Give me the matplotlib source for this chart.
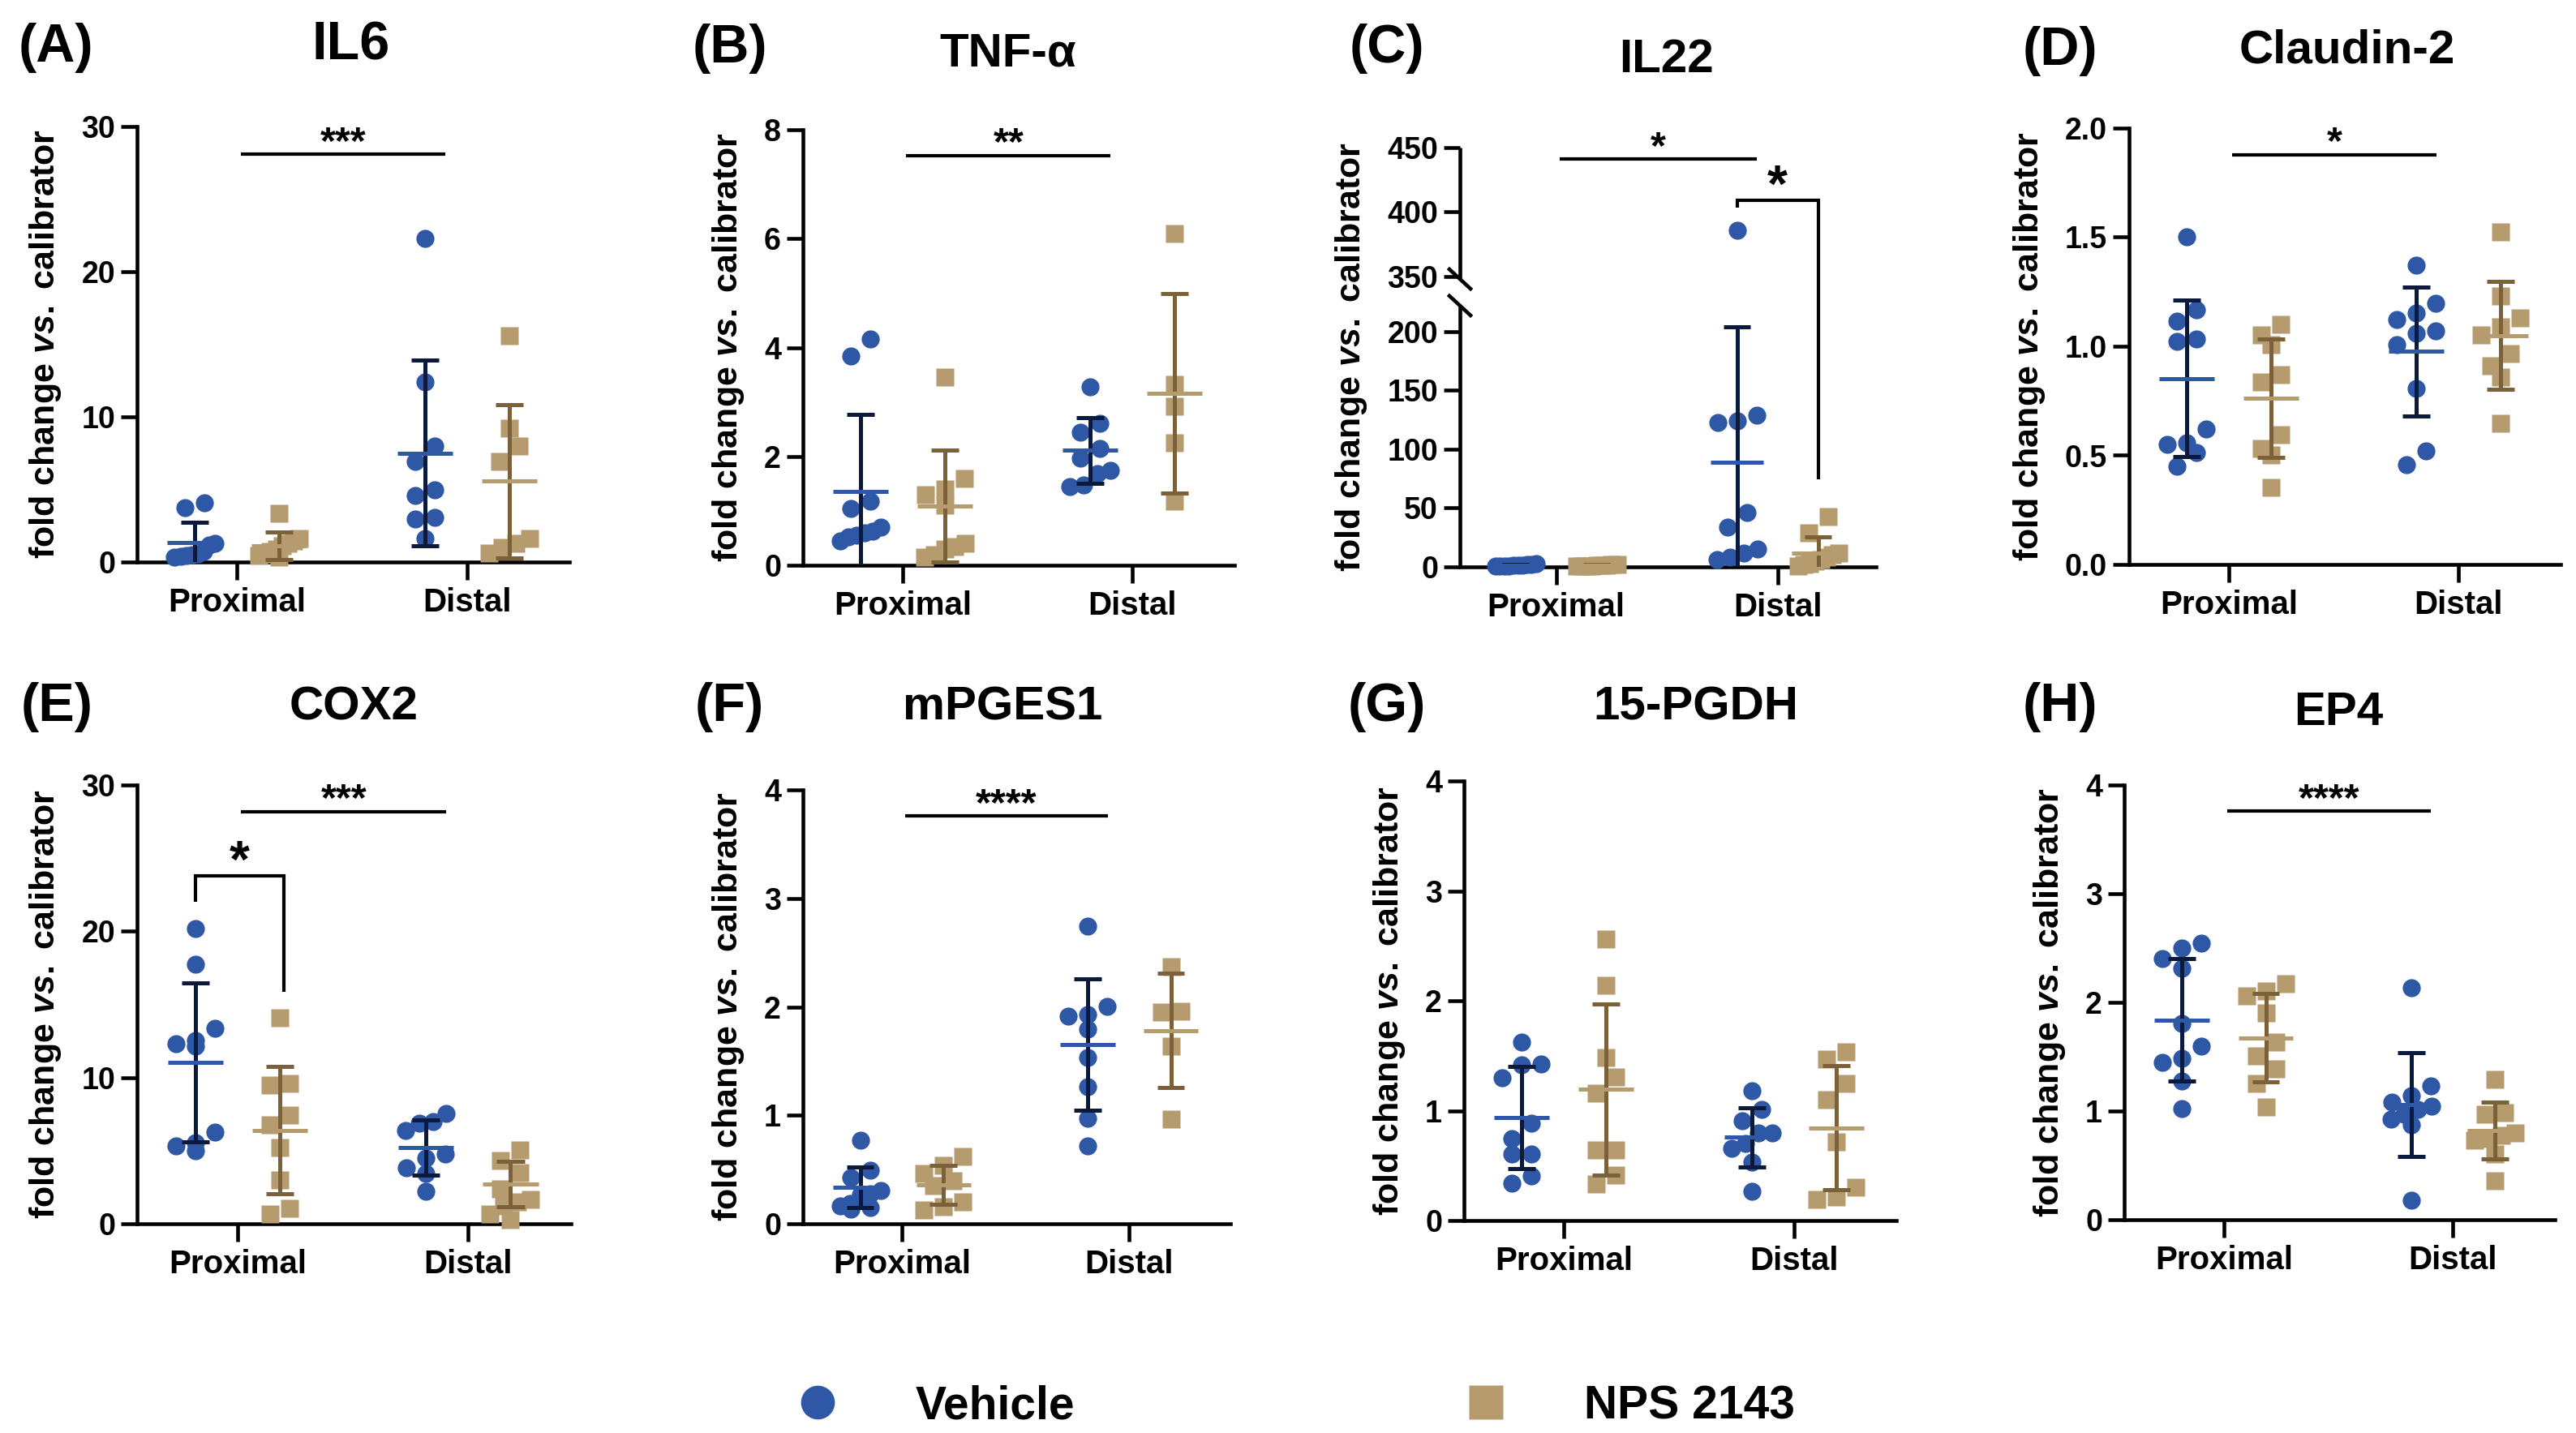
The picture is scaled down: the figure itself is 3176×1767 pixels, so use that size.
import numpy as np
import matplotlib
matplotlib.use("Agg")
import matplotlib.pyplot as plt
from matplotlib.lines import Line2D
from matplotlib.ticker import FuncFormatter, NullLocator

plt.rcParams['font.family'] = ['Liberation Sans', 'DejaVu Sans']
plt.rcParams['mathtext.fontset'] = 'custom'
plt.rcParams['mathtext.it'] = 'Liberation Sans:italic:bold'
plt.rcParams['mathtext.rm'] = 'Liberation Sans:bold'

# ---------------- data ----------------
regions = ['Proximal', 'Distal']
groups = ['Vehicle', 'NPS 2143']
genes = ['IL6', 'TNF-α', 'IL22', 'Claudin-2', 'COX2', 'mPGES1', '15-PGDH', 'EP4']
letters = ['(A)', '(B)', '(C)', '(D)', '(E)', '(F)', '(G)', '(H)']

# order of mean/sd lists: vehicle-proximal, nps-proximal, vehicle-distal, nps-distal
il6_veh_prox = [4.07, 3.72, 1.26, 1.15, 0.7, 0.55, 0.5, 0.45, 0.4, 0.35]
il6_nps_prox = [3.35, 1.6, 1.45, 1.3, 1.1, 0.9, 0.7, 0.55, 0.45, 0.35]
il6_veh_dist = [22.3, 12.4, 8.0, 6.9, 5.0, 4.6, 3.07, 2.98, 1.63]
il6_nps_dist = [15.6, 9.2, 8.0, 6.9, 1.6, 1.3, 1.0, 0.6]
il6_mean = [1.35, 1.11, 7.5, 5.56]
il6_sd = [1.37, 0.95, 6.4, 5.3]

tnf_veh_prox = [4.16, 3.85, 1.18, 1.05, 0.70, 0.62, 0.60, 0.55, 0.52, 0.44]
tnf_nps_prox = [3.45, 1.6, 1.4, 1.3, 1.1, 0.4, 0.35, 0.3, 0.2, 0.15]
tnf_veh_dist = [3.28, 2.61, 2.44, 2.15, 1.97, 1.74, 1.69, 1.47, 1.45]
tnf_nps_dist = [6.09, 3.32, 2.92, 2.25, 1.18]
tnf_mean = [1.36, 1.09, 2.11, 3.16]
tnf_sd = [1.41, 1.03, 0.6, 1.83]

il22_veh_prox = [2.5, 2.0, 1.8, 1.5, 1.3, 1.2, 1.0, 0.9, 0.8, 0.6]
il22_nps_prox = [2.2, 1.8, 1.5, 1.3, 1.1, 1.0, 0.8, 0.6, 0.5]
il22_veh_dist = [386, 129, 124, 123, 46, 34, 15, 12, 8, 6]
il22_nps_dist = [43, 29, 12, 10, 8, 6, 5, 3, 2, 1]
il22_mean = [1.36, 1.2, 88.7, 11.9]
il22_sd = [0.6, 0.55, 115.5, 13.8]

cld_veh_prox = [1.503, 1.168, 1.116, 1.034, 1.021, 0.621, 0.558, 0.552, 0.514, 0.45]
cld_nps_prox = [1.10, 1.053, 1.006, 0.869, 0.838, 0.596, 0.533, 0.50, 0.354]
cld_veh_dist = [1.371, 1.196, 1.154, 1.124, 1.069, 1.059, 1.006, 0.806, 0.52, 0.457]
cld_nps_dist = [1.524, 1.23, 1.13, 1.09, 1.053, 0.968, 0.91, 0.857, 0.648]
cld_mean = [0.853, 0.762, 0.977, 1.05]
cld_sd = [0.36, 0.272, 0.295, 0.248]

cox_veh_prox = [20.2, 17.77, 13.39, 12.54, 12.3, 12.17, 6.28, 5.54, 5.35, 5.0]
cox_nps_prox = [14.1, 9.61, 9.47, 7.42, 6.77, 5.2, 2.99, 1.08, 0.65]
cox_veh_dist = [7.53, 6.97, 6.9, 6.4, 4.78, 4.49, 3.84, 3.44, 2.22]
cox_nps_dist = [5.06, 4.35, 3.5, 2.36, 1.65, 1.5, 1.22, 0.65, 0.3]
cox_mean = [11.03, 6.4, 5.2, 2.7]
cox_sd = [5.45, 4.36, 1.89, 1.56]

mpg_veh_prox = [0.771, 0.49, 0.426, 0.307, 0.28, 0.272, 0.184, 0.165, 0.146, 0.134]
mpg_nps_prox = [0.617, 0.54, 0.464, 0.40, 0.35, 0.2, 0.157, 0.127]
mpg_veh_dist = [2.742, 2.006, 1.929, 1.914, 1.795, 1.534, 1.266, 0.97, 0.721]
mpg_nps_dist = [2.37, 1.96, 1.95, 1.64, 0.963]
mpg_mean = [0.337, 0.357, 1.653, 1.783]
mpg_sd = [0.19, 0.18, 0.604, 0.53]

pgd_veh_prox = [1.627, 1.427, 1.419, 1.298, 0.889, 0.745, 0.605, 0.605, 0.405, 0.34]
pgd_nps_prox = [2.562, 2.138, 1.487, 1.306, 1.162, 0.643, 0.643, 0.416, 0.33]
pgd_veh_dist = [1.184, 1.01, 0.908, 0.795, 0.795, 0.70, 0.655, 0.53, 0.265]
pgd_nps_dist = [1.533, 1.465, 1.249, 1.097, 0.719, 0.30, 0.216, 0.189]
pgd_mean = [0.935, 1.192, 0.757, 0.844]
pgd_sd = [0.465, 0.78, 0.27, 0.565]

ep4_veh_prox = [2.543, 2.497, 2.40, 2.314, 1.809, 1.598, 1.484, 1.446, 1.273, 1.025]
ep4_nps_prox = [2.172, 2.107, 2.057, 1.904, 1.637, 1.51, 1.388, 1.254, 1.036]
ep4_veh_dist = [2.134, 1.235, 1.14, 1.082, 1.044, 1.013, 0.967, 0.929, 0.872, 0.176]
ep4_nps_dist = [1.293, 0.987, 0.97, 0.795, 0.776, 0.75, 0.73, 0.604, 0.356]
ep4_mean = [1.839, 1.675, 1.063, 0.822]
ep4_sd = [0.565, 0.41, 0.478, 0.262]

y_ticks = [
    [0, 10, 20, 30],
    [0, 2, 4, 6, 8],
    [0, 50, 100, 150, 200, 350, 400, 450],
    [0.0, 0.5, 1.0, 1.5, 2.0],
    [0, 10, 20, 30],
    [0, 1, 2, 3, 4],
    [0, 1, 2, 3, 4],
    [0, 1, 2, 3, 4],
]

# significance lines: (gene index, x0, x1, y, label)
sig_lines = [
    (0, 0.015, 0.905, 28.1, '***'),
    (1, 0.015, 0.905, 7.53, '**'),
    (2, 0.015, 0.905, 441, '*'),
    (3, 0.015, 0.905, 1.878, '*'),
    (4, 0.015, 0.905, 28.18, '***'),
    (5, 0.015, 0.905, 3.758, '****'),
    (7, 0.015, 0.905, 3.76, '****'),
]
# brackets: (gene index, x_left, x_right, top, left_end, right_end, label)
sig_brackets = [
    (2, 0.817, 1.183, 409, 403.5, 74.6, '*'),
    (4, -0.183, 0.2, 23.8, 22.0, 15.87, '*'),
]

points = [
    (il6_veh_prox, il6_nps_prox, il6_veh_dist, il6_nps_dist),
    (tnf_veh_prox, tnf_nps_prox, tnf_veh_dist, tnf_nps_dist),
    (il22_veh_prox, il22_nps_prox, il22_veh_dist, il22_nps_dist),
    (cld_veh_prox, cld_nps_prox, cld_veh_dist, cld_nps_dist),
    (cox_veh_prox, cox_nps_prox, cox_veh_dist, cox_nps_dist),
    (mpg_veh_prox, mpg_nps_prox, mpg_veh_dist, mpg_nps_dist),
    (pgd_veh_prox, pgd_nps_prox, pgd_veh_dist, pgd_nps_dist),
    (ep4_veh_prox, ep4_nps_prox, ep4_veh_dist, ep4_nps_dist),
]
means = [il6_mean, tnf_mean, il22_mean, cld_mean, cox_mean, mpg_mean, pgd_mean, ep4_mean]
sds = [il6_sd, tnf_sd, il22_sd, cld_sd, cox_sd, mpg_sd, pgd_sd, ep4_sd]

# ---------------- layout / style ----------------
W, H, DPI = 3176, 1767, 100
# axes in pixels: left, right, top, bottom
axes_px = [
    (169, 702, 156, 693), (990, 1522, 160, 697), (1800, 2313, 182, 699), (2625, 3157, 158, 696),
    (169, 704, 968, 1509), (990, 1517, 974, 1509), (1805, 2338, 963, 1505), (2619, 3150, 968, 1504),
]
title_px = [(433, 57), (1243, 67), (2054, 74), (2894, 62),
            (436, 872), (1236, 872), (2091, 872), (2883, 879)]
title_fs = [48, 42, 42, 42, 42, 42, 42, 42]
letter_px = [(23, 59), (854, 60), (1664, 60), (2494, 63),
             (26, 872), (857, 872), (1662, 872), (2494, 872)]

XLIM = (-0.435, 1.445)
GROUP_OFF = [-0.183, 0.183]
FILL = ['#2E57A5', '#B59B6E']
ERRC = ['#0B1A3C', '#7A613A']
MARK = ['o', 's']
MS = [16, 15.5]
LW_ERR = 3.6
CAP_HALF = 0.06
MEAN_HALF = 0.12
SPINE_LW = 3.3

# broken axis for IL22
B1, B2, GAP, K = 222.0, 348.0, 22.6, 1.095


def fwd(y):
    y = np.asarray(y, dtype=float)
    mid = B1 + (y - B1) * GAP / (B2 - B1)
    return np.where(y <= B1, y, np.where(y >= B2, B1 + GAP + (y - B2) * K, mid))


def inv(u):
    u = np.asarray(u, dtype=float)
    mid = B1 + (u - B1) * (B2 - B1) / GAP
    return np.where(u <= B1, u, np.where(u >= B1 + GAP, B2 + (u - B1 - GAP) / K, mid))


def swarm_x(ax, vals, xc, diam_px=21.0, step_px=24.0, max_half_px=25.0):
    vals = np.asarray(vals, dtype=float)
    disp = ax.transData.transform(np.column_stack([np.full(len(vals), xc), vals]))
    ypx = disp[:, 1]
    order = np.argsort(-vals, kind='stable')
    rows, cur, start = [], [], None
    for i in order:
        if start is None or start - ypx[i] >= diam_px:
            if cur:
                rows.append(cur)
            cur, start = [i], ypx[i]
        else:
            cur.append(i)
    if cur:
        rows.append(cur)
    off = np.zeros(len(vals))
    for r in rows:
        n = len(r)
        if n == 1:
            continue
        sp = min(step_px, 2 * max_half_px / (n - 1))
        for k, i in enumerate(r):
            off[i] = (n - 1) / 2 * sp - k * sp
    x0 = disp[0, 0]
    back = ax.transData.inverted().transform(np.column_stack([x0 + off, ypx]))
    return back[:, 0]


fig = plt.figure(figsize=(W / DPI, H / DPI), dpi=DPI)
fig.patch.set_facecolor('white')

for gi, gene in enumerate(genes):
    L, R, T, B = axes_px[gi]
    ax = fig.add_axes([L / W, 1 - B / H, (R - L) / W, (B - T) / H])
    ax.set_xlim(*XLIM)
    ticks = y_ticks[gi]
    if gi == 2:
        ax.set_yscale('function', functions=(fwd, inv))
    ax.set_ylim(0, ticks[-1])
    ax.set_yticks(ticks)
    ax.yaxis.set_minor_locator(NullLocator())
    if gi == 3:
        ax.yaxis.set_major_formatter(FuncFormatter(lambda v, p: f'{v:.1f}'))
    else:
        ax.yaxis.set_major_formatter(FuncFormatter(lambda v, p: f'{v:g}'))
    ax.set_xticks([0, 1])
    ax.set_xticklabels(regions)
    for s in ['top', 'right']:
        ax.spines[s].set_visible(False)
    for s in ['left', 'bottom']:
        ax.spines[s].set_linewidth(SPINE_LW)
    ax.tick_params(axis='y', direction='out', length=14.5, width=SPINE_LW, labelsize=27, pad=5)
    ax.tick_params(axis='x', direction='out', length=16, width=SPINE_LW, labelsize=29, pad=6)
    for lab in ax.get_xticklabels() + ax.get_yticklabels():
        lab.set_fontweight('bold')
    ax.set_ylabel('fold change $\\mathit{vs.}$ calibrator', fontsize=31, fontweight='bold', labelpad=16)

    if gi == 2:
        ax.spines['left'].set_visible(False)
        ytr = ax.get_yaxis_transform()
        ax.plot([0, 0], [0, B1], transform=ytr, color='k', lw=SPINE_LW, clip_on=False,
                solid_capstyle='butt', zorder=2.5)
        ax.plot([0, 0], [B2, ticks[-1]], transform=ytr, color='k', lw=SPINE_LW, clip_on=False,
                solid_capstyle='butt', zorder=2.5)
        inv_fig = fig.transFigure.inverted()
        for yb in (B1, B2):
            px, py = ax.transData.transform((XLIM[0], yb))
            p1 = inv_fig.transform((px - 13, py + 12))
            p2 = inv_fig.transform((px + 13, py - 12))
            fig.add_artist(Line2D([p1[0], p2[0]], [p1[1], p2[1]], color='k', lw=SPINE_LW))

    pts = points[gi]
    for ri in range(2):
        for g in range(2):
            vals = pts[ri * 2 + g]
            xc = ri + GROUP_OFF[g]
            xs = swarm_x(ax, vals, xc)
            ax.plot(xs, vals, ls='none', marker=MARK[g], ms=MS[g], mfc=FILL[g], mec='none',
                    clip_on=False, zorder=3)
            m = means[gi][ri * 2 + g]
            s = sds[gi][ri * 2 + g]
            lo, hi = m - s, m + s
            ax.plot([xc, xc], [max(lo, 0), hi], color=ERRC[g], lw=LW_ERR, zorder=4,
                    solid_capstyle='butt')
            ax.plot([xc - CAP_HALF, xc + CAP_HALF], [hi, hi], color=ERRC[g], lw=LW_ERR, zorder=4,
                    solid_capstyle='butt')
            if lo > 0:
                ax.plot([xc - CAP_HALF, xc + CAP_HALF], [lo, lo], color=ERRC[g], lw=LW_ERR,
                        zorder=4, solid_capstyle='butt')
            ax.plot([xc - MEAN_HALF, xc + MEAN_HALF], [m, m], color=FILL[g], lw=LW_ERR, zorder=5,
                    solid_capstyle='butt')

    for (pi, x0, x1, y, lab) in sig_lines:
        if pi != gi:
            continue
        ax.plot([x0, x1], [y, y], color='k', lw=3, clip_on=False, solid_capstyle='butt', zorder=6)
        ax.annotate(lab, xy=((x0 + x1) / 2, y), xytext=(0, 1), textcoords='offset points',
                    ha='center', va='baseline', fontsize=35, fontweight='bold',
                    annotation_clip=False)
    for (pi, xl, xr, top, le, re_, lab) in sig_brackets:
        if pi != gi:
            continue
        ax.plot([xl, xl, xr, xr], [le, top, top, re_], color='k', lw=3, clip_on=False,
                solid_joinstyle='miter', solid_capstyle='butt', zorder=6)
        ax.annotate(lab, xy=((xl + xr) / 2, top), xytext=(0, -1.5), textcoords='offset points',
                    ha='center', va='baseline', fontsize=46, fontweight='bold',
                    annotation_clip=False)

    tx, ty = title_px[gi]
    fig.text(tx / W, 1 - ty / H, gene, ha='center', va='center', fontsize=title_fs[gi],
             fontweight='bold')
    lx, ly = letter_px[gi]
    fig.text(lx / W, 1 - ly / H, letters[gi], ha='left', va='center', fontsize=48,
             fontweight='bold')

handles = [Line2D([], [], ls='none', marker=MARK[g], ms=30, mfc=FILL[g], mec='none')
           for g in range(2)]
fig.legend(handles, groups, loc='center', bbox_to_anchor=(1596 / W, 1 - 1734 / H), ncol=2,
           frameon=False, prop={'size': 41, 'weight': 'bold'}, handlelength=1.0,
           handletextpad=1.62, columnspacing=8.4, borderpad=0.2)

fig.savefig('out.png', dpi=DPI, facecolor='white')
